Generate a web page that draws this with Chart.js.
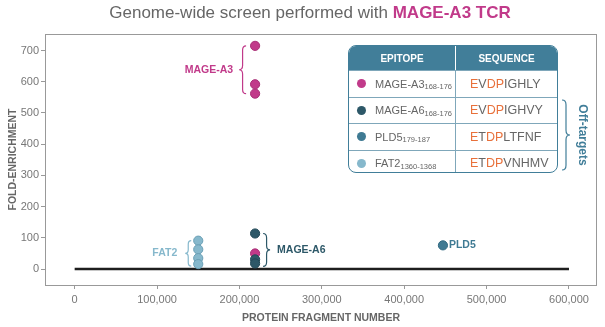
<!DOCTYPE html>
<html>
<head>
<meta charset="utf-8">
<script src="https://cdn.jsdelivr.net/npm/chart.js@4"></script>
<style>
	body { margin: 0; background: #fff; font-family: "Liberation Sans", Arial, sans-serif; }
	#wrap { position: relative; width: 605px; height: 327px; }
	#epitopes {
		position: absolute; left: 348px; top: 45px; width: 208px; height: 126px;
		border: 1.5px solid #417e99; border-radius: 8px; overflow: hidden; background: #fff;
	}
	.row { display: flex; height: 25.5px; border-top: 1px solid #7fa7ba; }
	.row.head { height: 24px; background: #417e99; border-top: none; }
	.row div { display: flex; align-items: center; }
	.c1 { width: 107px; border-right: 1px solid #7fa7ba; padding-left: 8px; box-sizing: border-box; font-size: 11px; color: #666; }
	.c2 { flex: 1; padding-left: 14px; font-size: 12.5px; color: #666; }
	.head .c1, .head .c2 { justify-content: center; padding-left: 0; color: #fff; font-size: 10px; font-weight: bold; }
	.head .c1 { border-right: 1px solid #fff; }
	.dot { width: 9px; height: 9px; border-radius: 50%; margin-right: 9px; }
	.sub { font-size: 7.5px; position: relative; top: 3px; }
	.o { color: #e8703a; }
</style>
</head>
<body>
<div id="wrap">
	<canvas id="screen_chart" width="605" height="327"></canvas>
	<div id="epitopes"></div>
</div>
<script>
const xTicks = [0, 100000, 200000, 300000, 400000, 500000, 600000];
const yTicks = [0, 100, 200, 300, 400, 500, 600, 700];

const mageA3X = [219000, 219000, 219000, 219000];
const mageA3Y = [715, 592, 562, 50];
const mageA6X = [219000, 219000, 219000];
const mageA6Y = [114, 31, 18];
const pld5X = [447000];
const pld5Y = [76];
const fat2X = [150000, 150000, 150000, 150000];
const fat2Y = [91, 63, 35, 16];
const baseX = [0, 600000];
const baseY = [0, 0];

const epitopeNames = ['MAGE-A3', 'MAGE-A6', 'PLD5', 'FAT2'];
const epitopeRanges = ['168-176', '168-176', '179-187', '1360-1368'];
const seqHighlight = [['E', 'V', 'DP', 'IGHLY'], ['E', 'V', 'DP', 'IGHVY'], ['E', 'T', 'DP', 'LTFNF'], ['E', 'T', 'DP', 'VNHMV']];
const colors = ['#c13a8a', '#2d5868', '#3f7a93', '#86b8cc'];
const borders = ['#a82f76', '#234a58', '#336a82', '#6a9fb5'];

const FONT = '"Liberation Sans", Arial, sans-serif';

function pts(xs, ys) {
	return xs.map((x, i) => ({ x: x, y: ys[i] }));
}

function brace(ctx, xa, y1, y2, w, d, color) {
	const r = w / 2;
	const xs = xa + d * r;
	const xt = xa + 2 * d * r;
	const ym = (y1 + y2) / 2;
	const k = Math.min(r * 1.2, (y2 - y1) / 4);
	ctx.save();
	ctx.strokeStyle = color;
	ctx.lineWidth = 1.2;
	ctx.beginPath();
	ctx.moveTo(xa, y1);
	ctx.quadraticCurveTo(xs, y1, xs, y1 + k);
	ctx.lineTo(xs, ym - k);
	ctx.quadraticCurveTo(xs, ym, xt, ym);
	ctx.quadraticCurveTo(xs, ym, xs, ym + k);
	ctx.lineTo(xs, y2 - k);
	ctx.quadraticCurveTo(xs, y2, xa, y2);
	ctx.stroke();
	ctx.restore();
}

function label(ctx, text, x, y, color, align) {
	ctx.save();
	ctx.font = 'bold 10.5px ' + FONT;
	ctx.fillStyle = color;
	ctx.textAlign = align;
	ctx.textBaseline = 'middle';
	ctx.fillText(text, x, y);
	ctx.restore();
}

const decorations = {
	id: 'decorations',
	beforeDatasetsDraw(chart) {
		const ctx = chart.ctx;
		const a = chart.chartArea;
		ctx.save();
		ctx.strokeStyle = '#999';
		ctx.lineWidth = 1;
		ctx.strokeRect(a.left + 0.5, a.top + 0.5, a.right - a.left - 1, a.bottom - a.top);
		ctx.restore();
	},
	afterDraw(chart) {
		const ctx = chart.ctx;
		const xs = chart.scales.x, ys = chart.scales.y;

		// title
		const t1 = 'Genome-wide screen performed with ';
		const t2 = 'MAGE-A3 TCR';
		ctx.save();
		ctx.textBaseline = 'middle';
		ctx.font = '17px ' + FONT;
		const w1 = ctx.measureText(t1).width;
		ctx.font = 'bold 17px ' + FONT;
		const w2 = ctx.measureText(t2).width;
		const x0 = 310 - (w1 + w2) / 2;
		ctx.font = '17px ' + FONT;
		ctx.fillStyle = '#666';
		ctx.fillText(t1, x0, 13);
		ctx.font = 'bold 17px ' + FONT;
		ctx.fillStyle = colors[0];
		ctx.fillText(t2, x0 + w1, 13);
		ctx.restore();

		// MAGE-A3 brace + label
		const mx = xs.getPixelForValue(mageA3X[0]);
		const a3top = ys.getPixelForValue(mageA3Y[0]);
		const a3bot = ys.getPixelForValue(mageA3Y[2]);
		brace(ctx, mx - 9, a3top, a3bot, 7, -1, colors[0]);
		label(ctx, 'MAGE-A3', mx - 22, (a3top + a3bot) / 2, colors[0], 'right');

		// MAGE-A6 brace + label
		const a6top = ys.getPixelForValue(mageA6Y[0]);
		const a6bot = ys.getPixelForValue(mageA6Y[2]) + 3;
		brace(ctx, mx + 8, a6top, a6bot, 7, 1, colors[1]);
		label(ctx, 'MAGE-A6', mx + 22, (a6top + a6bot) / 2, colors[1], 'left');

		// FAT2 brace + label
		const fx = xs.getPixelForValue(fat2X[0]);
		const ftop = ys.getPixelForValue(fat2Y[0]);
		const fbot = ys.getPixelForValue(fat2Y[3]) + 2;
		brace(ctx, fx - 7, ftop, fbot, 6, -1, colors[3]);
		label(ctx, 'FAT2', fx - 21, (ftop + fbot) / 2, colors[3], 'right');

		// PLD5 label
		label(ctx, 'PLD5', xs.getPixelForValue(pld5X[0]) + 6, ys.getPixelForValue(pld5Y[0]), colors[2], 'left');

		// Off-targets brace
		brace(ctx, 562, 100, 170, 8, 1, '#417e99');
		ctx.save();
		ctx.translate(582, 135);
		ctx.rotate(Math.PI / 2);
		ctx.font = 'bold 12px ' + FONT;
		ctx.fillStyle = '#417e99';
		ctx.textAlign = 'center';
		ctx.textBaseline = 'middle';
		ctx.fillText('Off-targets', 0, 0);
		ctx.restore();
	}
};

function build_table() {
	const box = document.getElementById('epitopes');
	let html = '<div class="row head"><div class="c1">EPITOPE</div><div class="c2">SEQUENCE</div></div>';
	epitopeNames.forEach((name, i) => {
		const s = seqHighlight[i];
		html += '<div class="row"><div class="c1"><span class="dot" style="background:' + colors[i] + '"></span>' +
			name + '<span class="sub">' + epitopeRanges[i] + '</span></div>' +
			'<div class="c2"><span class="o">' + s[0] + '</span>' + s[1] + '<span class="o">' + s[2] + '</span>' + s[3] + '</div></div>';
	});
	box.innerHTML = html;
}

function scatterSet(label, xs, ys, i) {
	return {
		label: label,
		data: pts(xs, ys),
		backgroundColor: colors[i],
		borderColor: borders[i],
		borderWidth: 1,
		pointRadius: 4.6,
		showLine: false,
		order: 1
	};
}

function generate_chart() {
	const ctx = document.getElementById('screen_chart').getContext('2d');
	const tickFont = { family: FONT, size: 11 };
	const titleFont = { family: FONT, size: 10.5, weight: 'bold' };

	new Chart(ctx, {
		type: 'scatter',
		data: {
			datasets: [
				{
					label: 'baseline',
					data: pts(baseX, baseY),
					showLine: true,
					borderColor: '#1e1e1e',
					borderWidth: 2.5,
					pointRadius: 0,
					order: 5
				},
				scatterSet('MAGE-A6', mageA6X, mageA6Y, 1),
				scatterSet('MAGE-A3', mageA3X, mageA3Y, 0),
				scatterSet('PLD5', pld5X, pld5Y, 2),
				scatterSet('FAT2', fat2X, fat2Y, 3)
			]
		},
		options: {
			responsive: false,
			animation: false,
			layout: { padding: { top: 34, right: 8, left: 0, bottom: 0 } },
			plugins: { legend: { display: false }, tooltip: { enabled: false } },
			scales: {
				x: {
					type: 'linear',
					min: -36000,
					max: 634000,
					afterBuildTicks: s => { s.ticks = xTicks.map(v => ({ value: v })); },
					afterFit: s => { s.height = 42; },
					grid: { drawOnChartArea: false, drawTicks: true, tickLength: 4, color: '#999' },
					border: { display: false },
					ticks: {
						color: '#777', font: tickFont, padding: 4, maxRotation: 0,
						callback: v => v.toLocaleString('en-US')
					},
					title: { display: true, text: 'PROTEIN FRAGMENT NUMBER', color: '#666', font: titleFont, padding: { top: 0, bottom: 3 } }
				},
				y: {
					type: 'linear',
					min: -51,
					max: 753,
					afterBuildTicks: s => { s.ticks = yTicks.map(v => ({ value: v })); },
					afterFit: s => { s.width = 45; },
					grid: { drawOnChartArea: false, drawTicks: true, tickLength: 4, color: '#999' },
					border: { display: false },
					ticks: { color: '#777', font: tickFont, padding: 2 },
					title: { display: true, text: 'FOLD-ENRICHMENT', color: '#666', font: titleFont, padding: { top: 7, bottom: 0 } }
				}
			}
		},
		plugins: [decorations]
	});
}

build_table();
generate_chart();
</script>
</body>
</html>
